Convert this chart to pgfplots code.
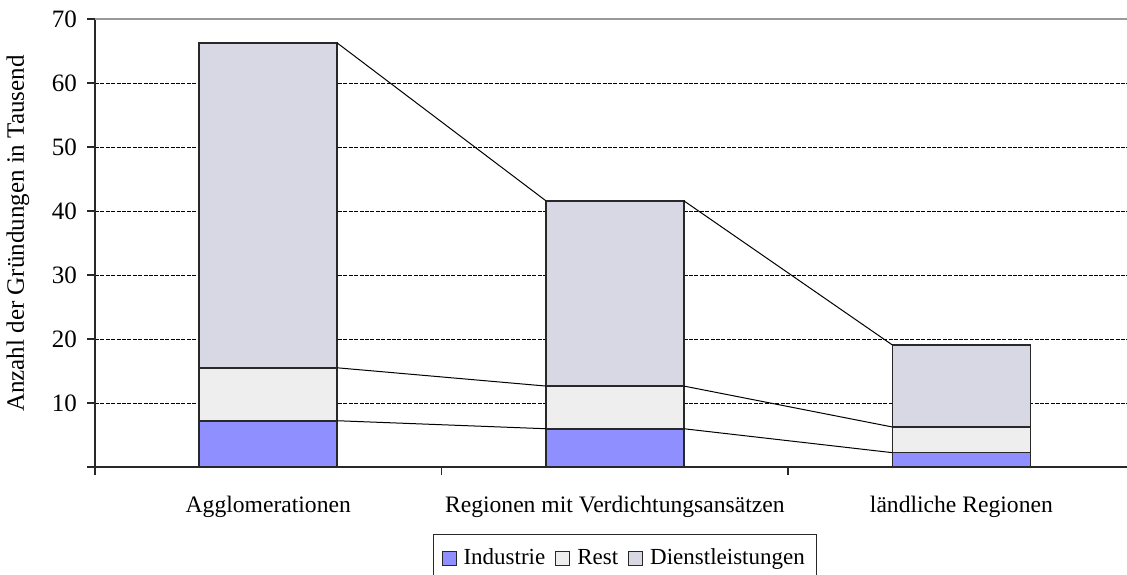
\documentclass[border=0pt]{standalone}
\usepackage{fontspec}
\setmainfont{Liberation Serif}
\usepackage{pgfplots}
\pgfplotsset{compat=1.18}
\definecolor{cInd}{RGB}{143,143,255}
\definecolor{cRest}{RGB}{238,238,238}
\definecolor{cDienst}{RGB}{216,216,228}
\definecolor{cEdge}{RGB}{40,40,40}
\begin{document}
\begin{tikzpicture}
\pgfplotsset{
  common/.style={
    scale only axis, width=516pt, height=224pt,
    xmin=-0.5, xmax=2.478, ymin=0, ymax=70,
  }
}
\begin{axis}[name=main, common,
  ybar stacked, bar width=69pt,
  /pgf/number format/assume math mode=true,
  axis lines=left, axis line style={-, draw=cEdge, line width=0.9pt},
  tick align=outside, major tick length=4pt,
  tick style={draw=cEdge, line width=0.8pt},
  xtick={0,1,2},
  xticklabels={Agglomerationen, Regionen mit Verdichtungsansätzen, ländliche Regionen},
  major x tick style={draw=none},
  extra x ticks={-0.5,0.5,1.5}, extra x tick labels={},
  extra x tick style={major x tick style={draw=cEdge}},
  xticklabel style={font=\fontsize{11.8}{14}\selectfont, yshift=-7pt},
  ytick={0,10,20,30,40,50,60},
  yticklabels={,10,20,30,40,50,60},
  extra y ticks={70}, extra y tick labels={70},
  extra y tick style={major grid style={solid, draw=gray!80, line width=0.9pt}},
  yticklabel style={font=\fontsize{12.5}{14}\selectfont, xshift=-1.5pt},
  ymajorgrids,
  major grid style={dash pattern=on 2pt off 0.7pt, draw=black, line width=0.5pt},
  ylabel={Anzahl der Gründungen in Tausend},
  ylabel style={font=\fontsize{12.5}{14}\selectfont, at={(axis description cs:-0.0746,0.521)}, anchor=center},
  legend columns=-1,
  legend style={at={(axis description cs:0.3275,-0.1496)}, anchor=north west,
    draw=cEdge, line width=0.6pt, font=\fontsize{11.5}{13}\selectfont,
    inner xsep=4pt, inner ysep=5pt,
    /tikz/every odd column/.append style={column sep=1.5pt},
    /tikz/every even column/.append style={column sep=3pt}},
  legend image code/.code={\draw[#1, draw=cEdge, line width=0.5pt] (0pt,-3.5pt) rectangle (7pt,3.5pt);},
  every axis plot/.append style={draw=cEdge, line width=0.8pt},
]
\addplot[fill=cInd] coordinates {(0,7.23) (1,5.98) (2,2.24)};
\addlegendentry{Industrie}
\addplot[fill=cRest] coordinates {(0,8.27) (1,6.67) (2,4.01)};
\addlegendentry{Rest}
\addplot[fill=cDienst] coordinates {(0,50.75) (1,28.95) (2,12.81)};
\addlegendentry{Dienstleistungen}
\end{axis}
\begin{axis}[common, hide axis, unbounded coords=jump]
\addplot[black, line width=0.5pt, mark=none] coordinates {(0.199,7.23) (0.801,5.98) (nan,nan) (1.199,5.98) (1.801,2.24)};
\addplot[black, line width=0.5pt, mark=none] coordinates {(0.199,15.5) (0.801,12.65) (nan,nan) (1.199,12.65) (1.801,6.25)};
\addplot[black, line width=0.5pt, mark=none] coordinates {(0.199,66.25) (0.801,41.6) (nan,nan) (1.199,41.6) (1.801,19.06)};
\end{axis}
\pgfresetboundingbox
\useasboundingbox ([shift={(-47.5pt,-53.5pt)}]main.south west) rectangle ([shift={(516pt,233.5pt)}]main.south west);
\end{tikzpicture}
\end{document}
